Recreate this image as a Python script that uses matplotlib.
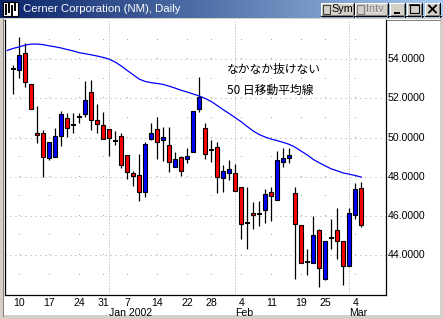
import matplotlib
matplotlib.use("Agg")
import matplotlib.pyplot as plt
import numpy as np
from matplotlib.patches import Rectangle
from matplotlib.transforms import blended_transform_factory

# ---------------- data ----------------
# trading days: index 0 = 2001-12-07 ... index 58 = 2002-03-05
opens = [53.49, 53.44, 54.32, 52.74, 50.22, 50.22, 48.94, 48.99, 50.07, 50.99,
         50.63, 51.04, 51.19, 52.31, 50.88, 50.63, 50.42, 49.83, 50.07, 49.09,
         48.17, 48.07, 47.20, 49.94, 50.42, 49.87, 49.60, 48.48, 48.99, 48.92,
         49.24, 51.44, 50.47, 49.36, 49.50, 47.94, 48.19, 48.21, 47.45, 45.64,
         46.17, 46.09, 46.28, 47.21, 46.79, 48.74, 48.96, 47.19, 45.52, 43.66,
         43.61, 45.28, 42.80, 44.89, 45.28, 44.70, 43.46, 46.03, 47.41]
highs = [53.71, 55.15, 54.82, 52.74, 51.61, 50.39, 49.78, 50.50, 51.36, 51.24,
         51.24, 51.24, 52.89, 52.94, 51.72, 51.32, 50.42, 50.34, 50.25, 49.09,
         48.29, 49.15, 49.79, 50.76, 51.06, 50.52, 50.52, 49.28, 49.06, 49.45,
         51.35, 53.11, 50.76, 49.87, 49.76, 48.60, 48.84, 48.64, 47.45, 47.45,
         46.70, 46.75, 47.35, 47.48, 49.32, 49.49, 49.49, 47.48, 45.52, 44.31,
         45.99, 45.35, 44.72, 45.84, 46.39, 44.70, 46.40, 47.69, 47.74]
lows = [52.21, 53.06, 52.57, 51.48, 49.74, 47.97, 48.85, 48.99, 49.59, 50.01,
        50.22, 50.73, 51.07, 50.39, 50.25, 49.91, 49.06, 49.62, 48.43, 47.87,
        47.53, 46.77, 46.98, 49.88, 48.89, 48.82, 48.26, 48.48, 48.04, 48.71,
        49.24, 51.32, 48.89, 48.77, 47.15, 47.23, 47.82, 47.28, 44.83, 44.29,
        45.34, 45.49, 45.64, 45.74, 46.79, 48.47, 48.70, 42.76, 43.57, 43.00,
        43.61, 42.36, 42.73, 44.30, 43.79, 42.49, 43.46, 45.86, 45.45]
closes = [53.49, 54.22, 52.82, 51.48, 50.12, 48.99, 49.76, 50.07, 51.19, 50.47,
          50.63, 51.04, 51.90, 50.88, 50.68, 49.91, 49.96, 49.83, 48.58, 48.23,
          48.02, 47.20, 49.66, 50.23, 49.76, 50.01, 48.73, 48.89, 48.28, 49.06,
          51.35, 52.08, 49.16, 49.36, 47.97, 48.29, 48.37, 47.28, 45.61, 45.64,
          46.02, 46.09, 47.14, 46.99, 48.84, 48.93, 49.10, 45.56, 43.61, 43.66,
          45.01, 43.33, 44.72, 44.89, 44.70, 43.44, 46.13, 47.36, 45.55]
# 50-day moving average, index -1 (2001-12-06) .. 58
ma_start = -1
ma50 = [54.45, 54.55, 54.63, 54.72, 54.77, 54.77, 54.74, 54.68, 54.63, 54.57,
        54.49, 54.42, 54.33, 54.28, 54.22, 54.16, 54.09, 54.00, 53.85, 53.65,
        53.42, 53.20, 52.98, 52.86, 52.80, 52.76, 52.71, 52.62, 52.52, 52.41,
        52.32, 52.22, 52.12, 51.99, 51.84, 51.63, 51.42, 51.22, 51.01, 50.80,
        50.56, 50.33, 50.15, 50.02, 49.92, 49.84, 49.75, 49.65, 49.50, 49.30,
        49.11, 48.88, 48.71, 48.55, 48.40, 48.30, 48.19, 48.13, 48.06, 47.98]

day_tick_idx = [1, 6, 11, 15, 19, 24, 29, 33, 38, 43, 48, 52, 57]
day_tick_lbl = ['10', '17', '24', '31', '7', '14', '22', '28', '4', '11', '19', '25', '4']
month_idx = [16, 37, 56]
month_lbl = ['Jan 2002', 'Feb', 'Mar']
price_ticks = [44, 46, 48, 50, 52, 54]
title = "Cerner Corporation (NM), Daily"
note1 = "なかなか抜けない"
note2 = "50 日移動平均線"

# ---------------- figure ----------------
W, H = 443, 319
fig = plt.figure(figsize=(W / 100, H / 100), dpi=100, facecolor='#D4D0C8')

# background / window chrome in pixel coordinates
bg = fig.add_axes([0, 0, 1, 1])
bg.set_xlim(0, W)
bg.set_ylim(H, 0)
bg.axis('off')
bg.add_patch(Rectangle((4, 19), 436, 296, facecolor='white', edgecolor='none'))
bg.plot([3.5, 3.5], [19, 316], color='#808080', lw=0.72)
bg.plot([3.5, 440], [19.5, 19.5], color='#808080', lw=0.72)

# title bar gradient
grad = np.linspace(0, 1, 256)[None, :]
c0 = np.array([0x0A, 0x24, 0x6A]) / 255
c1 = np.array([0xA6, 0xCA, 0xF0]) / 255
img = c0[None, None, :] * (1 - grad[..., None]) + c1[None, None, :] * grad[..., None]
bg.imshow(img, extent=[0, W, 18, 0], aspect='auto', interpolation='bilinear', zorder=1)
bg.set_xlim(0, W)
bg.set_ylim(H, 0)

# icon
bg.add_patch(Rectangle((3, 2), 15, 14, facecolor='white', edgecolor='black', lw=0.8, zorder=2))
for xx, a, b in [(6, 5, 14), (9, 4, 12), (12, 6, 15), (15, 3, 10)]:
    bg.plot([xx, xx], [a, b], color='black', lw=1.4, zorder=3)
bg.text(23, 9.5, title, color='white', fontsize=8.2, family='Liberation Sans',
        va='center', ha='left', zorder=3)


def button(x0, x1, y0=2.5, y1=16.5):
    bg.add_patch(Rectangle((x0, y0), x1 - x0, y1 - y0, facecolor='#D4D0C8',
                           edgecolor='none', zorder=2))
    bg.plot([x0, x1], [y0 + 0.5, y0 + 0.5], color='white', lw=0.72, zorder=3)
    bg.plot([x0 + 0.5, x0 + 0.5], [y0, y1], color='white', lw=0.72, zorder=3)
    bg.plot([x0, x1], [y1 - 0.5, y1 - 0.5], color='black', lw=0.72, zorder=3)
    bg.plot([x1 - 0.5, x1 - 0.5], [y0, y1], color='black', lw=0.72, zorder=3)
    bg.plot([x0 + 1, x1 - 1], [y1 - 1.5, y1 - 1.5], color='#808080', lw=0.72, zorder=3)
    bg.plot([x1 - 1.5, x1 - 1.5], [y0 + 1, y1 - 1], color='#808080', lw=0.72, zorder=3)


button(321, 355)
bg.add_patch(Rectangle((323.5, 5), 6.5, 8.5, facecolor='#D4D0C8', edgecolor='#404040', lw=0.8, zorder=4))
bg.text(331, 9.5, 'Sym', fontsize=7.8, family='Liberation Sans', va='center', ha='left', zorder=4)
button(355, 389)
bg.add_patch(Rectangle((357.5, 5), 6.5, 8.5, facecolor='#D4D0C8', edgecolor='#808080', lw=0.8, zorder=4))
bg.text(366.5, 10.2, 'Intv', fontsize=7.8, family='Liberation Sans', va='center', ha='left',
        color='white', zorder=4)
bg.text(366, 9.5, 'Intv', fontsize=7.8, family='Liberation Sans', va='center', ha='left',
        color='#808080', zorder=4)
button(390, 406)
bg.add_patch(Rectangle((394, 11.5), 6, 2, facecolor='black', edgecolor='none', zorder=4))
button(407, 423)
bg.add_patch(Rectangle((410.5, 4.5), 8.5, 8.5, facecolor='none', edgecolor='black', lw=0.8, zorder=4))
bg.plot([410.5, 419], [5.2, 5.2], color='black', lw=1.2, zorder=4)
button(425, 441)
bg.plot([429, 436], [5.5, 12.5], color='black', lw=1.3, zorder=4)
bg.plot([429, 436], [12.5, 5.5], color='black', lw=1.3, zorder=4)

# ---------------- main chart ----------------
ax = fig.add_axes([5 / W, 24 / H, 381 / W, 275 / H], zorder=2)
ax.set_facecolor('white')
ax.set_xlim(-1.38, 62.12)
ax.set_ylim(41.96, 56.0)
for s in ['left', 'bottom', 'right']:
    ax.spines[s].set_color('black')
    ax.spines[s].set_linewidth(0.9)
ax.spines['top'].set_visible(False)
ax.set_xticks([])
ax.set_yticks([])

grid_c = '#A8A8A8'
for p in price_ticks:
    ax.axhline(p, color=grid_c, lw=0.72, linestyle=(0, (1, 4)), zorder=0)
for m in month_idx:
    ax.axvline(m, color=grid_c, lw=0.72, linestyle=(0, (1, 2)), zorder=0)
gx, gy = np.meshgrid(day_tick_idx, np.arange(43, 56, 1))
ax.plot(gx.ravel(), gy.ravel(), ',', color=grid_c, zorder=0)

x = np.arange(len(opens))
o = np.array(opens); c = np.array(closes); hi = np.array(highs); lo = np.array(lows)
ax.vlines(x, lo, hi, color='black', lw=0.9, zorder=2)
doji = np.isclose(o, c)
up = (c > o) & ~doji
dn = (c < o) & ~doji
ax.bar(x[up], (c - o)[up], bottom=o[up], width=0.62, color='#0000FF',
       edgecolor='black', linewidth=0.8, zorder=3)
ax.bar(x[dn], (c - o)[dn], bottom=o[dn], width=0.62, color='#FF0000',
       edgecolor='black', linewidth=0.8, zorder=3)
ax.hlines(o[doji], x[doji] - 0.38, x[doji] + 0.38, color='black', lw=1.4, zorder=3)

ma_x = np.arange(ma_start, ma_start + len(ma50))
ax.plot(ma_x, ma50, color='#0000FF', lw=0.9, zorder=4)

ax.text(35.6, 53.5, note1, fontsize=8.5, family=['Noto Sans CJK JP', 'DejaVu Sans'],
        va='center', ha='left')
ax.text(35.6, 52.43, note2, fontsize=8.5, family=['Noto Sans CJK JP', 'DejaVu Sans'],
        va='center', ha='left')

trb = blended_transform_factory(ax.transAxes, ax.transData)
for p in price_ticks:
    ax.text(1 + 2 / 381, p, f"{p:.4f}", transform=trb, fontsize=7.6,
            family='Liberation Sans', va='center', ha='left')

tbx = blended_transform_factory(ax.transData, ax.transAxes)
for i, lbl in zip(day_tick_idx, day_tick_lbl):
    ax.text(i, -8.5 / 275, lbl, transform=tbx, fontsize=7.6, family='Liberation Sans',
            va='center', ha='center')
for i, lbl in zip(month_idx, month_lbl):
    ax.text(i, -17.5 / 275, lbl, transform=tbx, fontsize=7.6, family='Liberation Sans',
            va='center', ha='left')

fig.savefig('out.png', dpi=100, facecolor=fig.get_facecolor())
